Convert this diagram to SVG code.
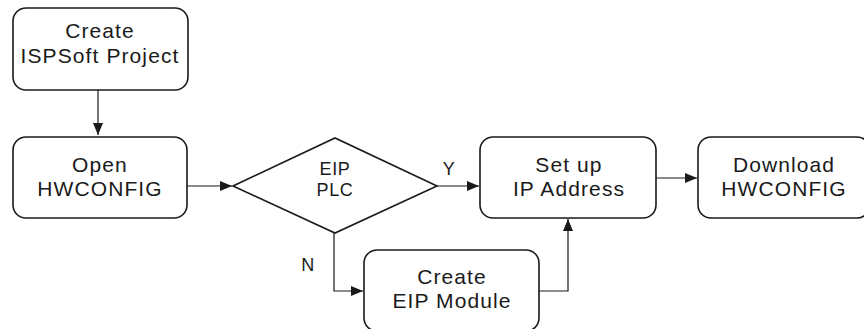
<svg xmlns="http://www.w3.org/2000/svg" width="864" height="329" viewBox="0 0 864 329">
<defs>
<marker id="ah" markerWidth="12" markerHeight="10" refX="12" refY="5" orient="auto" markerUnits="userSpaceOnUse">
<path d="M0,0 L12,5 L0,10 Z" fill="#1a1a1a"/>
</marker>
<style>
.box{fill:#fff;stroke:#1a1a1a;stroke-width:1.6}
.t{font-family:"Liberation Sans",Arial,sans-serif;font-size:21px;letter-spacing:1.1px;fill:#1a1a1a;text-anchor:middle}
.s{font-family:"Liberation Sans",Arial,sans-serif;font-size:18px;letter-spacing:0.6px;fill:#1a1a1a;text-anchor:middle}
.c{fill:none;stroke:#1a1a1a;stroke-width:1.2}
</style>
</defs>
<rect width="864" height="329" fill="#fff"/>
<g id="connectors">
<path class="c" d="M98,90 V135" marker-end="url(#ah)"/>
<path class="c" d="M187,186 H232" marker-end="url(#ah)"/>
<path class="c" d="M437,186 H479" marker-end="url(#ah)"/>
<path class="c" d="M656,178 H697" marker-end="url(#ah)"/>
<path class="c" d="M334,233 V291 H363" marker-end="url(#ah)"/>
<path class="c" d="M539,291 H568 V219" marker-end="url(#ah)"/>
<text class="s" x="449" y="175">Y</text>
<text class="s" x="308" y="271">N</text>
</g>
<g id="n1">
<rect class="box" x="13" y="8" width="175" height="82" rx="13"/>
<text class="t" x="100" y="38">Create</text>
<text class="t" x="100" y="63">ISPSoft Project</text>
</g>
<g id="n2">
<rect class="box" x="13" y="137" width="174" height="81" rx="13"/>
<text class="t" x="100" y="172">Open</text>
<text class="t" x="100" y="196">HWCONFIG</text>
</g>
<g id="n3">
<polygon class="box" points="233,186 335,138 437,186 335,233"/>
<text class="s" x="335" y="175">EIP</text>
<text class="s" x="335" y="196">PLC</text>
</g>
<g id="n4">
<rect class="box" x="480" y="137" width="176" height="81" rx="13"/>
<text class="t" x="569" y="172">Set up</text>
<text class="t" x="569" y="196">IP Address</text>
</g>
<g id="n5">
<rect class="box" x="698" y="137" width="172" height="81" rx="13"/>
<text class="t" x="784" y="172">Download</text>
<text class="t" x="784" y="196">HWCONFIG</text>
</g>
<g id="n6">
<rect class="box" x="364" y="250" width="175" height="81" rx="13"/>
<text class="t" x="452" y="284">Create</text>
<text class="t" x="452" y="308">EIP Module</text>
</g>
</svg>
